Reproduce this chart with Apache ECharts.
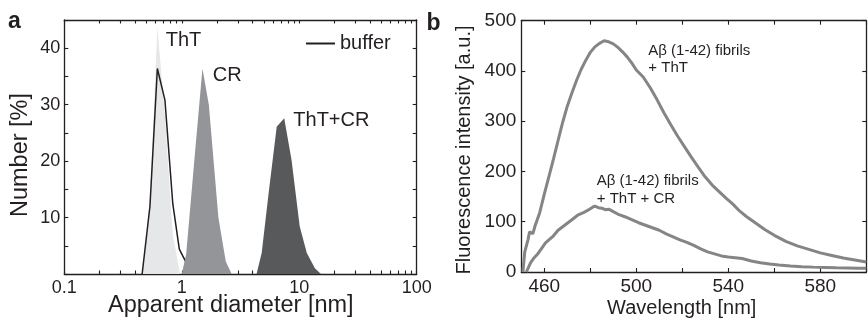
<!DOCTYPE html>
<html>
<head>
<meta charset="utf-8">
<script src="https://cdn.jsdelivr.net/npm/echarts@6/dist/echarts.min.js"></script>
<style>
html,body{margin:0;padding:0;background:#fff;}
#c{width:868px;height:320px;}
</style>
</head>
<body>
<div id="c"></div>
<script>
// ---- Panel a: DLS number distributions (diameter nm, number %) ----
const THT = [[0.46,0],[0.536,13],[0.62,43.8],[0.719,28],[0.838,7],[0.966,0]];
const BUFFER = [[0.46,0],[0.536,12],[0.62,36.4],[0.719,30.8],[0.838,12.5],[0.953,4.4],[1.08,2.2],[1.2,0]];
const CR = [[1.0,0],[1.09,3.5],[1.29,21],[1.5,36.4],[1.7,30],[2.05,10],[2.37,2.2],[2.66,0]];
const THT_CR = [[4.33,0],[4.79,3.7],[5.5,14.5],[6.43,26.1],[7.45,27.6],[8.6,20.2],[10.1,8.4],[11.6,3.7],[13.6,1],[15.3,0]];
const DIAM_TICKS = [0.1,0.2,0.3,0.4,0.5,0.6,0.7,0.8,0.9,1,2,3,4,5,6,7,8,9,10,20,30,40,50,60,70,80,90,100];
const DIAM_LABELS = [0.1,1,10,100];

// ---- Panel b: fluorescence spectra (wavelength nm, intensity a.u.) ----
const FIB_THT = [[450.7,0],[451.5,40],[452.9,64],[453.6,80],[455,76],[456,92],[458,118],[460,155],[462,190],[464,225],[466,262],[468,298],[470,330],[472,356],[474,381],[476,403],[478,421],[480,437],[482,448],[484,455],[486,460],[488,458],[490,454],[492,447],[494,438],[496,428],[498,416],[500,402],[503,388],[506,367],[509,343],[512,317],[515,293],[518,270],[521,249],[524,228],[527,208],[530,189],[533,173],[536,160],[539,147],[542,135],[545,121],[548,110],[552,97],[556,84],[560,73],[565,61],[570,52],[575,45],[580,38],[585,33],[590,28],[595,24],[600,20]];
const FIB_THT_CR = [[452.2,0],[454,18],[455.5,28],[457.3,37],[459,48],[460.5,58],[462,64],[464,72],[466,83],[468,90],[470,97],[472,104],[474.5,113],[477,118],[479,123],[481,129],[482,131],[483.5,128],[485,127],[486.5,124],[488,125],[490,120],[492.5,114],[495,110],[498,104],[501,98],[504,93],[507,88],[510,83],[513,76],[516,70],[519,64],[522,59],[525,53],[528,46],[531,40],[534,36],[537,32],[540,30],[543,28.5],[546,27],[550,22],[554,18.5],[558,16],[562,14],[567,12],[572,10.5],[577,9.7],[582,9.2],[587,8.5],[592,8],[596,7.6],[600,7.4]];
const WL_TICKS = [460,480,500,520,540,560,580,600];
const WL_LABELS = [460,500,540,580];

const FONT = 'Liberation Sans, Arial, Helvetica, sans-serif';
const INK = '#231f20';

function frameAxis(extra) {
  const base = {
    axisLine: {show: true, onZero: false, lineStyle: {color: INK, width: 1.3}},
    axisTick: {show: true, inside: true, length: 4, lineStyle: {color: INK, width: 1.1}},
    splitLine: {show: false},
    axisLabel: {show: false}
  };
  return Object.assign(base, extra);
}

const chart = echarts.init(document.getElementById('c'), null, {renderer: 'canvas'});

const option = {
  animation: false,
  backgroundColor: '#fff',
  textStyle: {fontFamily: FONT},
  grid: [
    {left: 64.3, top: 20, width: 352.4, height: 254},
    {left: 521.3, top: 20.7, width: 345, height: 251.3}
  ],
  xAxis: [
    frameAxis({gridIndex: 0, type: 'log', logBase: 10, min: 0.1, max: 100, position: 'bottom',
      axisTick: {show: true, inside: true, length: 3.5, customValues: DIAM_TICKS, lineStyle: {color: INK, width: 1.1}},
      axisLabel: {show: true, customValues: DIAM_LABELS, fontSize: 18, color: INK, fontFamily: FONT, margin: 5,
        formatter: v => String(+Number(v).toPrecision(3))}}),
    frameAxis({gridIndex: 0, type: 'log', logBase: 10, min: 0.1, max: 100, position: 'top',
      axisTick: {show: true, inside: true, length: 3.5, customValues: DIAM_TICKS, lineStyle: {color: INK, width: 1.1}}}),
    frameAxis({gridIndex: 1, type: 'value', min: 450, max: 600, position: 'bottom',
      axisTick: {show: true, inside: true, length: 4, customValues: WL_TICKS, lineStyle: {color: INK, width: 1.1}},
      axisLabel: {show: true, customValues: WL_LABELS, fontSize: 19, color: INK, fontFamily: FONT, margin: 5}}),
    frameAxis({gridIndex: 1, type: 'value', min: 450, max: 600, position: 'top',
      axisTick: {show: true, inside: true, length: 4, customValues: WL_TICKS, lineStyle: {color: INK, width: 1.1}}})
  ],
  yAxis: [
    frameAxis({gridIndex: 0, type: 'value', min: 0, max: 45, interval: 5, position: 'left',
      axisLabel: {show: true, fontSize: 18, color: INK, fontFamily: FONT, margin: 4,
        formatter: v => (v > 0 && v % 10 === 0) ? String(v) : ''}}),
    frameAxis({gridIndex: 0, type: 'value', min: 0, max: 45, interval: 5, position: 'right'}),
    frameAxis({gridIndex: 1, type: 'value', min: 0, max: 500, interval: 100, position: 'left',
      axisLabel: {show: true, fontSize: 19, color: INK, fontFamily: FONT, margin: 5}}),
    frameAxis({gridIndex: 1, type: 'value', min: 0, max: 500, interval: 100, position: 'right'})
  ],
  legend: {
    data: ['buffer'], left: 306, top: 33.5, padding: 0, icon: 'rect', itemWidth: 29, itemHeight: 2,
    textStyle: {fontSize: 20, color: INK, fontFamily: FONT},
    inactiveColor: INK
  },
  series: [
    {name: 'ThT', type: 'line', xAxisIndex: 0, yAxisIndex: 0, data: THT, symbol: 'none',
      lineStyle: {width: 0, opacity: 0}, areaStyle: {color: '#e6e7e8', opacity: 1}, z: 2},
    {name: 'buffer', type: 'line', xAxisIndex: 0, yAxisIndex: 0, data: BUFFER, symbol: 'none',
      lineStyle: {width: 1.5, color: INK}, itemStyle: {color: INK}, z: 3},
    {name: 'CR', type: 'line', xAxisIndex: 0, yAxisIndex: 0, data: CR, symbol: 'none',
      lineStyle: {width: 0, opacity: 0}, areaStyle: {color: '#939598', opacity: 1}, z: 4},
    {name: 'ThT+CR', type: 'line', xAxisIndex: 0, yAxisIndex: 0, data: THT_CR, symbol: 'none',
      lineStyle: {width: 0, opacity: 0}, areaStyle: {color: '#58595b', opacity: 1}, z: 4},
    {name: 'fibrils+ThT', type: 'line', xAxisIndex: 2, yAxisIndex: 2, data: FIB_THT, symbol: 'none',
      lineStyle: {width: 3, color: '#858585'}, z: 3},
    {name: 'fibrils+ThT+CR', type: 'line', xAxisIndex: 2, yAxisIndex: 2, data: FIB_THT_CR, symbol: 'none',
      lineStyle: {width: 3, color: '#858585'}, z: 3}
  ],
  graphic: [
    {type: 'text', x: 8, y: 22, style: {text: 'a', font: 'bold 23px ' + FONT, fill: INK, textAlign: 'left', textVerticalAlign: 'middle'}},
    {type: 'text', x: 426.5, y: 23.5, style: {text: 'b', font: 'bold 23px ' + FONT, fill: INK, textAlign: 'left', textVerticalAlign: 'middle'}},
    {type: 'text', x: 165.7, y: 40.5, style: {text: 'ThT', font: '20px ' + FONT, fill: INK, textAlign: 'left', textVerticalAlign: 'middle'}},
    {type: 'text', x: 212.7, y: 75.5, style: {text: 'CR', font: '20px ' + FONT, fill: INK, textAlign: 'left', textVerticalAlign: 'middle'}},
    {type: 'text', x: 293.3, y: 120.5, style: {text: 'ThT+CR', font: '20px ' + FONT, fill: INK, textAlign: 'left', textVerticalAlign: 'middle'}},
    {type: 'text', x: 230.8, y: 305.6, style: {text: 'Apparent diameter [nm]', font: '23.5px ' + FONT, fill: INK, textAlign: 'center', textVerticalAlign: 'middle'}},
    {type: 'text', x: 21, y: 155, rotation: Math.PI / 2, style: {text: 'Number [%]', font: '23.5px ' + FONT, fill: INK, textAlign: 'center', textVerticalAlign: 'middle'}},
    {type: 'text', x: 648.3, y: 50.6, style: {text: 'Aβ (1-42) fibrils', font: '15px ' + FONT, fill: INK, textAlign: 'left', textVerticalAlign: 'middle'}},
    {type: 'text', x: 648.3, y: 67.9, style: {text: '+ ThT', font: '15px ' + FONT, fill: INK, textAlign: 'left', textVerticalAlign: 'middle'}},
    {type: 'text', x: 596.7, y: 180.6, style: {text: 'Aβ (1-42) fibrils', font: '15px ' + FONT, fill: INK, textAlign: 'left', textVerticalAlign: 'middle'}},
    {type: 'text', x: 596.7, y: 198.6, style: {text: '+ ThT + CR', font: '15px ' + FONT, fill: INK, textAlign: 'left', textVerticalAlign: 'middle'}},
    {type: 'text', x: 681.7, y: 308.8, style: {text: 'Wavelength [nm]', font: '20px ' + FONT, fill: INK, textAlign: 'center', textVerticalAlign: 'middle'}},
    {type: 'text', x: 464.2, y: 150, rotation: Math.PI / 2, style: {text: 'Fluorescence intensity [a.u.]', font: '20px ' + FONT, fill: INK, textAlign: 'center', textVerticalAlign: 'middle'}}
  ]
};
chart.setOption(option);
</script>
</body>
</html>
